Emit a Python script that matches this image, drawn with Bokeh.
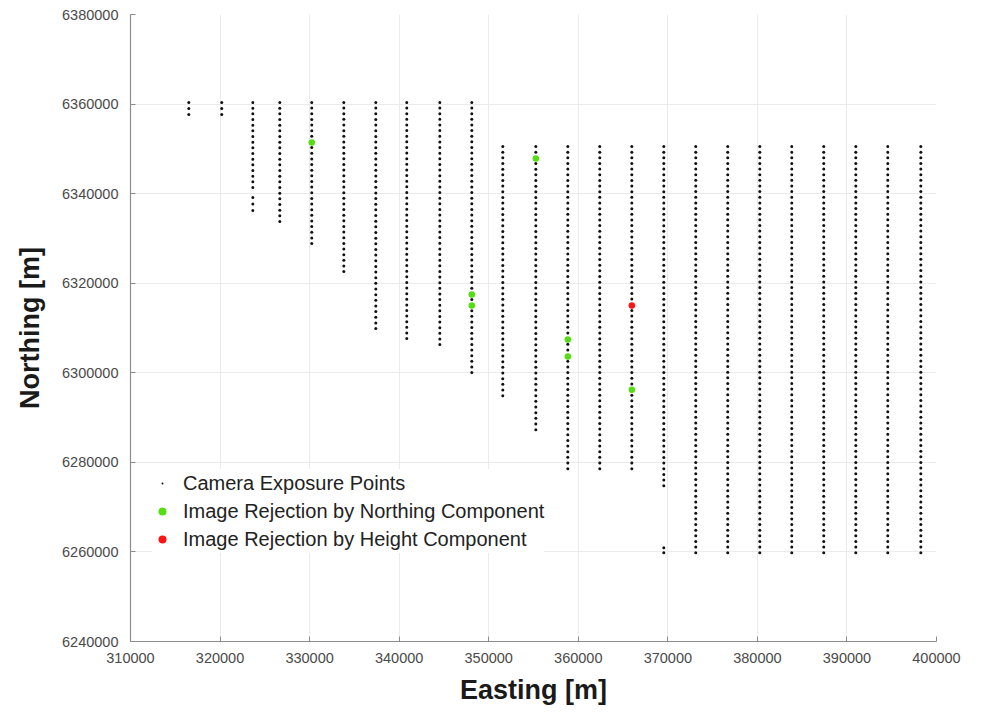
import numpy as np
from bokeh.plotting import figure
from bokeh.models import FixedTicker, BasicTickFormatter, Legend, LegendItem, Range1d
from bokeh.embed import file_html
from bokeh.resources import INLINE

# ---- flight-line segments of camera exposure points ----
seg_easting = [316510, 320190, 323660, 323660, 326670, 330240, 333820, 337390,
               340850, 344540, 348110, 351570, 355260, 358830, 362400, 365980,
               369550, 369550, 373120, 376690, 380270, 383840, 387410, 390990,
               394560, 398250]
seg_north_top = [6360360, 6360360, 6360360, 6339140, 6360360, 6360360, 6360360, 6360360,
                 6360360, 6360360, 6360360, 6350530, 6350530, 6350530, 6350530, 6350530,
                 6350530, 6260950, 6350530, 6350530, 6350530, 6350530, 6350530, 6350530,
                 6350530, 6350530]
seg_north_bottom = [6357680, 6357680, 6341370, 6336230, 6333770, 6328860, 6322600, 6309870,
                    6307630, 6306290, 6300040, 6294900, 6287300, 6278590, 6278590, 6278590,
                    6274790, 6259820, 6259820, 6259820, 6259820, 6259820, 6259820, 6259820,
                    6259820, 6259820]
seg_count = [3, 3, 16, 3, 22, 26, 31, 41,
             43, 44, 49, 45, 51, 58, 58, 58,
             61, 2, 73, 73, 73, 73, 73, 73,
             73, 73]

# ---- rejected images ----
north_rej_easting = [330240, 348110, 348110, 355260, 358830, 358830, 365980]
north_rej_northing = [6351420, 6317460, 6315000, 6347850, 6307410, 6303610, 6296240]
height_rej_easting = [365980]
height_rej_northing = [6315000]

# ---- axes ----
x_ticks = [310000, 320000, 330000, 340000, 350000, 360000, 370000, 380000, 390000, 400000]
y_ticks = [6240000, 6260000, 6280000, 6300000, 6320000, 6340000, 6360000, 6380000]
x_label = "Easting [m]"
y_label = "Northing [m]"
legend_labels = ["Camera Exposure Points",
                 "Image Rejection by Northing Component",
                 "Image Rejection by Height Component"]

exp_e, exp_n = [], []
for e, t, b, n in zip(seg_easting, seg_north_top, seg_north_bottom, seg_count):
    exp_e += [e] * n
    exp_n += list(np.linspace(t, b, n))

FONT = "Liberation Sans"

p = figure(width=970, height=710,
           x_range=Range1d(x_ticks[0], x_ticks[-1]),
           y_range=Range1d(y_ticks[0], y_ticks[-1]),
           output_backend="svg", toolbar_location=None,
           min_border_left=130, min_border_right=34,
           min_border_top=14, min_border_bottom=69)
p.outline_line_color = None
p.background_fill_color = "white"
p.border_fill_color = "white"

p.xaxis.ticker = FixedTicker(ticks=x_ticks)
p.yaxis.ticker = FixedTicker(ticks=y_ticks)
p.xgrid.ticker = FixedTicker(ticks=x_ticks)
p.ygrid.ticker = FixedTicker(ticks=y_ticks)
p.xaxis.formatter = BasicTickFormatter(use_scientific=False)
p.yaxis.formatter = BasicTickFormatter(use_scientific=False)
p.xaxis.axis_label = x_label
p.yaxis.axis_label = y_label

for ax in (p.xaxis[0], p.yaxis[0]):
    ax.axis_line_color = "#8c8c8c"
    ax.axis_line_width = 1.2
    ax.major_tick_line_color = "#8c8c8c"
    ax.major_tick_in = 5
    ax.major_tick_out = 0
    ax.minor_tick_line_color = None
    ax.major_label_text_font = FONT
    ax.major_label_text_font_size = "14.5px"
    ax.major_label_text_color = "#4a4a4a"
    ax.axis_label_text_font = FONT
    ax.axis_label_text_font_style = "bold"
    ax.axis_label_text_font_size = "27px"
    ax.axis_label_text_color = "#1a1a1a"

p.xaxis.major_label_standoff = 11
p.xaxis.axis_label_standoff = 9
p.yaxis.major_label_standoff = 12
p.yaxis.axis_label_standoff = 14

for g in (p.xgrid[0], p.ygrid[0]):
    g.grid_line_color = "#ebebeb"
    g.grid_line_width = 1

r_exp = p.scatter(exp_e, exp_n, marker="dot", size=12,
                  line_color="#111111", fill_color="#111111")
r_north = p.scatter(north_rej_easting, north_rej_northing, marker="circle", size=6.5,
                    line_color=None, fill_color="#55dd11")
r_height = p.scatter(height_rej_easting, height_rej_northing, marker="circle", size=6.5,
                     line_color=None, fill_color="#ff1414")

legend = Legend(items=[LegendItem(label=legend_labels[0], renderers=[r_exp]),
                       LegendItem(label=legend_labels[1], renderers=[r_north]),
                       LegendItem(label=legend_labels[2], renderers=[r_height])],
                location=(22, 88))
legend.label_text_font = FONT
legend.label_text_font_size = "20px"
legend.label_text_color = "#222222"
legend.border_line_color = None
legend.background_fill_color = "white"
legend.background_fill_alpha = 1.0
legend.padding = 5
legend.margin = 0
legend.spacing = 0
legend.glyph_width = 20
legend.glyph_height = 20
legend.label_height = 28
legend.label_standoff = 11
p.add_layout(legend, "center")

open("out.html", "w").write(file_html(p, INLINE))
